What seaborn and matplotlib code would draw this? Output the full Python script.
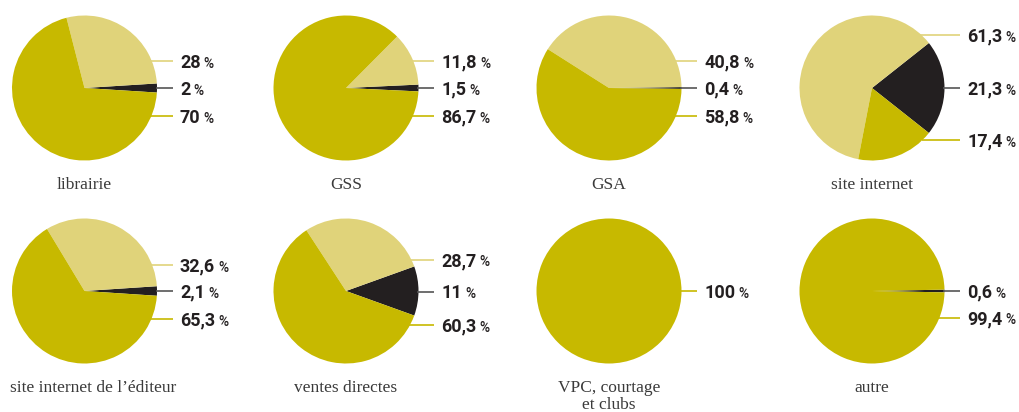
import numpy as np
import matplotlib
matplotlib.use("Agg")
from matplotlib import pyplot as plt
import seaborn as sns

# data: share (%) of each segment per sales channel
categories = ["librairie", "GSS", "GSA", "site internet",
              "site internet de l\u2019éditeur", "ventes directes",
              "VPC, courtage\net clubs", "autre"]
dark = [2, 1.5, 0.4, 21.3, 2.1, 11, 0, 0.6]
light = [28, 11.8, 40.8, 61.3, 32.6, 28.7, 0, 0]
olive = [70, 86.7, 58.8, 17.4, 65.3, 60.3, 100, 99.4]

sns.set_theme(style="white")
palette = sns.color_palette(["#231f20", "#e0d37a", "#c7b900"])
line_cols = ["#555555", "#e0d37a", "#c7b900"]

W, H = 1020, 412
fig = plt.figure(figsize=(W / 100, H / 100), dpi=100)
ax = fig.add_axes([0, 0, 1, 1])

# layout (pixels from top-left)
col_x = [84.5, 346, 609, 872]
row_y = [88, 291]
r = 72.5
# vertical offsets of labels: light, dark, olive
label_dy = [[-27, 0, 28], [-27, 0, 28], [-27, 0, 28], [-53, 0, 52],
            [-26, 0, 28], [-31, 1, 34], [None, None, 0], [None, 0, 27]]

numbers = []
titles = []
for i, name in enumerate(categories):
    cx = col_x[i % 4]
    cy = H - row_y[i // 4]
    vals = [dark[i], light[i], olive[i]]
    ax.pie(vals, colors=palette, startangle=-dark[i] * 1.8,
           center=(cx, cy), radius=r, counterclock=True,
           wedgeprops=dict(linewidth=0))

    # labels in order light, dark, olive
    for k, v, col in [(0, light[i], line_cols[1]), (1, dark[i], line_cols[0]),
                      (2, olive[i], line_cols[2])]:
        if v == 0:
            continue
        dy = label_dy[i][k]
        y = cy - dy
        x0 = cx + np.sqrt(max(r ** 2 - dy ** 2, 0)) - 1
        ax.plot([x0, cx + r + 16], [y, y], color=col, lw=1.2,
                solid_capstyle="butt", zorder=1)
        txt = f"{v:g}".replace(".", ",")
        t = ax.text(cx + r + 23, y - 6.5, txt, fontsize=13, fontweight="bold",
                    color="#231f20", va="baseline", ha="left",
                    family="Roboto")
        numbers.append(t)

    tt = ax.text(cx, H - row_y[i // 4] - 89, name, fontsize=12.5,
                 color="#3a3a3a", ha="center", va="top",
                 family="Liberation Serif", linespacing=1.1)
    titles.append(tt)

ax.set_xlim(0, W)
ax.set_ylim(0, H)
ax.set_aspect("equal")
ax.axis("off")

fig.canvas.draw()
renderer = fig.canvas.get_renderer()
inv = ax.transData.inverted()

# keep long titles away from the left edge
for tt in titles:
    bb = tt.get_window_extent(renderer)
    if bb.x0 < 10:
        x, y = tt.get_position()
        tt.set_position((x + 10 - bb.x0, y))

# the "%" sign, smaller, set right after each number on the same baseline
for t in numbers:
    bb = t.get_window_extent(renderer)
    x_end = inv.transform((bb.x1, bb.y0))[0]
    ax.text(x_end + 3, t.get_position()[1], "%", fontsize=10,
            color="#231f20", va="baseline", ha="left",
            family="Roboto", fontweight="medium")

fig.savefig("out.png", dpi=100)
